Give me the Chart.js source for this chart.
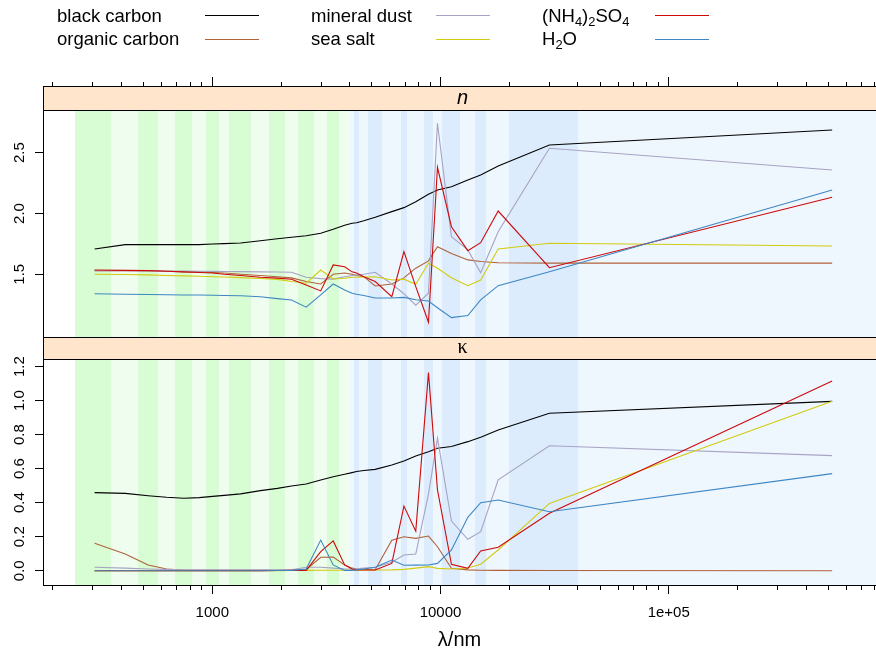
<!DOCTYPE html>
<html><head><meta charset="utf-8">
<script src="https://cdn.jsdelivr.net/npm/chart.js@4/dist/chart.umd.min.js"></script>
<style>
html,body{margin:0;padding:0;background:#fff;width:876px;height:656px;overflow:hidden;}
#wrap{position:relative;width:876px;height:656px;}
canvas{position:absolute;left:0;top:0;}
.lg{position:absolute;font-family:"Liberation Sans",Arial,sans-serif;font-size:18.5px;color:#000;white-space:nowrap;line-height:1;}
.lg sub{font-size:70%;vertical-align:-0.3em;line-height:0;}
</style></head>
<body><div id="wrap"><canvas id="c" width="876" height="656"></canvas><div id="legend"></div></div>
<script>
// ---- data ----
const wavelength = [305, 415.5, 523.5, 631, 750.5, 876.5, 1004, 1127, 1330.5, 1625, 1928, 2224.5, 2578, 2986, 3386.5, 3801.5,
  4095, 4287, 4611.5, 5174, 6117.5, 6913, 7789.5, 8855, 9697.5, 11164.5, 13170.5, 14994, 17893.5, 30000, 520000];

const nBlackCarbon   = [1.708,1.744,1.744,1.744,1.744,1.744,1.749,1.752,1.757,1.776,1.792,1.804,1.817,1.837,1.870,1.903,1.919,1.924,1.940,1.969,2.015,2.048,2.097,2.158,2.193,2.220,2.275,2.317,2.390,2.563,2.687];
const nOrganicCarbon = [1.53,1.53,1.53,1.525,1.52,1.52,1.515,1.51,1.50,1.49,1.48,1.47,1.44,1.42,1.50,1.51,1.50,1.49,1.48,1.404,1.42,1.47,1.55,1.61,1.727,1.67,1.618,1.605,1.595,1.592,1.592];
const nMineralDust   = [1.53,1.53,1.528,1.527,1.526,1.525,1.524,1.523,1.522,1.52,1.518,1.516,1.475,1.464,1.46,1.48,1.49,1.495,1.50,1.516,1.42,1.34,1.245,1.344,2.742,1.809,1.70,1.513,1.85,2.536,2.358];
const nSeaSalt       = [1.50,1.498,1.495,1.49,1.487,1.484,1.48,1.477,1.472,1.465,1.458,1.44,1.426,1.535,1.461,1.467,1.475,1.475,1.478,1.48,1.453,1.46,1.418,1.59,1.549,1.472,1.406,1.453,1.708,1.755,1.733];
const nSulfate       = [1.535,1.532,1.53,1.525,1.52,1.515,1.51,1.50,1.49,1.475,1.468,1.459,1.412,1.363,1.577,1.562,1.52,1.51,1.48,1.44,1.316,1.686,1.398,1.105,2.38,1.891,1.694,1.76,2.02,1.554,2.133];
const nWater         = [1.34,1.336,1.334,1.332,1.33,1.329,1.327,1.325,1.323,1.315,1.30,1.289,1.229,1.33,1.42,1.37,1.344,1.335,1.325,1.305,1.305,1.31,1.29,1.28,1.225,1.143,1.16,1.289,1.406,1.52,2.193];

const kBlackCarbon   = [0.459,0.455,0.441,0.432,0.426,0.43,0.437,0.443,0.452,0.471,0.484,0.498,0.51,0.534,0.553,0.567,0.577,0.583,0.589,0.596,0.622,0.645,0.675,0.70,0.72,0.73,0.759,0.785,0.828,0.926,0.996];
const kOrganicCarbon = [0.161,0.098,0.034,0.01,0.003,0.002,0.002,0.002,0.002,0.002,0.002,0.003,0.006,0.079,0.08,0.034,0.015,0.01,0.008,0.006,0.18,0.20,0.19,0.204,0.141,0.014,0.005,0.003,0.002,0.001,0.0];
const kMineralDust   = [0.02,0.015,0.01,0.008,0.006,0.005,0.005,0.005,0.005,0.005,0.005,0.006,0.02,0.02,0.015,0.01,0.01,0.012,0.015,0.02,0.05,0.092,0.098,0.45,0.779,0.292,0.185,0.23,0.535,0.735,0.677];
const kSeaSalt       = [0,0,0,0,0,0,0,0,0,0,0,0.001,0.002,0.003,0.003,0.003,0.003,0.003,0.004,0.004,0.005,0.008,0.015,0.024,0.014,0.01,0.016,0.038,0.122,0.396,0.996];
const kSulfate       = [0,0,0,0,0,0,0,0,0,0,0.001,0.002,0.002,0.112,0.175,0.034,0.01,0.005,0.004,0.004,0.043,0.38,0.232,1.165,0.475,0.038,0.014,0.116,0.138,0.338,1.116];
const kWater         = [0,0,0,0,0,0,0,0,0,0,0.001,0.002,0.01,0.18,0.034,0.002,0.002,0.005,0.01,0.02,0.063,0.032,0.033,0.034,0.043,0.122,0.314,0.40,0.416,0.347,0.571];

// band edges (nm): shortwave and longwave bands
const swBandEdges = [250, 360, 471, 576, 686, 815, 938, 1070, 1184, 1477, 1773, 2083, 2366, 2790, 3182, 3591, 4012];
const lwBandEdges = [4012, 4178, 4396, 4827, 5521, 6714, 7112, 8467, 9243, 10152, 12177, 14164, 15824, 20000, 40000, 1000000];

const seriesNames = ['black carbon', 'organic carbon', 'mineral dust', 'sea salt', '(NH<sub>4</sub>)<sub>2</sub>SO<sub>4</sub>', 'H<sub>2</sub>O'];
const nSeries = [nBlackCarbon, nOrganicCarbon, nMineralDust, nSeaSalt, nSulfate, nWater];
const kSeries = [kBlackCarbon, kOrganicCarbon, kMineralDust, kSeaSalt, kSulfate, kWater];

const xTickValues = [200,300,400,500,600,700,800,900,1000,2000,3000,4000,5000,6000,7000,8000,9000,10000,20000,30000,40000,50000,60000,70000,80000,90000,100000,200000,300000,400000,500000,600000,700000,800000];
const xLabelValues = [1000, 10000, 100000];
const nTickValues = [1.5, 2.0, 2.5];
const kTickValues = [0.0, 0.2, 0.4, 0.6, 0.8, 1.0, 1.2];

// ---- styles ----
const colors = ['#000000', '#b0623a', '#a7a3c4', '#d2cc10', '#cc0a0a', '#3d87c4'];
const FONT = '"Liberation Sans", Arial, Helvetica, sans-serif';
const swColors = ['#d8fcd3', '#effdee'];
const lwColors = ['#eef6fe', '#dcecfd'];
const stripColor = '#ffe5cc';

// legend text (HTML) and keys (canvas)
const legendPos = [[57,205,7,15],[57,205,30,39],[311,436,7,15],[311,436,30,39],[542,655,7,15],[542,655,30,39]];
const lg = document.getElementById('legend');
seriesNames.forEach((nm, i) => {
  const [tx, lx, ty, ly] = legendPos[i];
  const s = document.createElement('div'); s.className = 'lg'; s.style.left = tx + 'px'; s.style.top = ty + 'px'; s.innerHTML = nm; lg.appendChild(s);
});

const datasets = [];
const order = [6, 5, 4, 3, 2, 1];
nSeries.forEach((arr, i) => datasets.push({ data: wavelength.map((w, j) => ({x: w, y: arr[j]})), yAxisID: 'yN', borderColor: colors[i], borderWidth: 1.1, pointRadius: 0, fill: false, tension: 0, order: order[i] }));
kSeries.forEach((arr, i) => datasets.push({ data: wavelength.map((w, j) => ({x: w, y: arr[j]})), yAxisID: 'yK', borderColor: colors[i], borderWidth: 1.1, pointRadius: 0, fill: false, tension: 0, order: order[i] }));

function fillBands(ctx, x, s, edges, cols) {
  for (let i = 0; i < edges.length - 1; i++) {
    const a = Math.round(x.getPixelForValue(edges[i]));
    const b = Math.round(x.getPixelForValue(edges[i + 1]));
    ctx.fillStyle = cols[i % 2];
    ctx.fillRect(a, s.top, b - a, s.bottom - s.top);
  }
}

const panelPlugin = {
  id: 'panels',
  beforeDatasetsDraw(chart) {
    const {ctx, chartArea, scales} = chart;
    ctx.save();
    ctx.beginPath();
    ctx.rect(chartArea.left, chartArea.top, chartArea.right - chartArea.left, chartArea.bottom - chartArea.top);
    ctx.clip();
    for (const id of ['yN', 'yK']) {
      fillBands(ctx, scales.x, scales[id], swBandEdges, swColors);
      fillBands(ctx, scales.x, scales[id], lwBandEdges, lwColors);
    }
    ctx.restore();
  },
  afterDatasetsDraw(chart) {
    const {ctx, chartArea, scales} = chart;
    ctx.save();
    const L = chartArea.left, R = chartArea.right + 2;
    [['s1', 'n', 'italic'], ['s2', '\u03ba', 'normal']].forEach(([id, txt, st]) => {
      const s = scales[id];
      ctx.fillStyle = stripColor;
      ctx.fillRect(L, s.top, R - L, s.bottom - s.top);
      ctx.fillStyle = '#000';
      ctx.font = st + ' 20px ' + (st === 'italic' ? FONT : '"Liberation Serif", "DejaVu Serif", serif');
      ctx.textAlign = 'center'; ctx.textBaseline = 'middle';
      ctx.fillText(txt, (chartArea.left + chartArea.right) / 2 + 3, (s.top + s.bottom) / 2);
    });
    ctx.strokeStyle = '#000'; ctx.lineWidth = 1;
    for (const id of ['s1', 'yN', 's2', 'yK']) {
      const s = scales[id];
      ctx.strokeRect(Math.round(L) + 0.5, Math.round(s.top) + 0.5, R - L, Math.round(s.bottom) - Math.round(s.top));
    }
    // legend keys
    ctx.lineWidth = 1.2;
    legendPos.forEach(([tx, lx, ty, ly], i) => {
      ctx.strokeStyle = colors[i];
      ctx.beginPath(); ctx.moveTo(lx, ly + 0.5); ctx.lineTo(lx + 54, ly + 0.5); ctx.stroke();
    });
    ctx.restore();
  }
};

const tickFont = {family: FONT, size: 15};
const yCommon = (ticks) => ({
  type: 'linear', position: 'left', stack: 'panels',
  grid: {display: true, drawOnChartArea: false, drawTicks: true, tickLength: 8, color: '#000', lineWidth: 1},
  border: {display: false},
  ticks: {color: '#000', font: tickFont, minRotation: 90, maxRotation: 90, crossAlign: 'center', padding: 5, autoSkip: false,
    callback: v => Number(v).toFixed(1)},
  afterBuildTicks: s => { s.ticks = ticks.map(v => ({value: v})); },
  afterFit: s => { s.width = 43; }
});

new Chart(document.getElementById('c'), {
  type: 'line',
  data: {datasets},
  options: {
    responsive: false, animation: false, devicePixelRatio: 1,
    layout: {padding: {top: 77, left: 0, right: 0, bottom: 0}},
    plugins: {legend: {display: false}, tooltip: {enabled: false}},
    elements: {line: {borderCapStyle: 'butt', borderJoinStyle: 'miter'}},
    scales: {
      x: {type: 'logarithmic', position: 'bottom', min: 181.2, max: 809400, weight: 1,
        grid: {drawOnChartArea: false, tickLength: 5, color: '#000'}, border: {display: false},
        ticks: {display: false, autoSkip: false},
        afterBuildTicks: s => { s.ticks = xTickValues.map(v => ({value: v})); },
        afterFit: s => { s.height = 5; }},
      xLab: {type: 'logarithmic', position: 'bottom', min: 181.2, max: 809400, weight: 2,
        grid: {drawOnChartArea: false, tickLength: 4, color: '#000'}, border: {display: false},
        ticks: {display: true, autoSkip: false, maxRotation: 0, minRotation: 0, padding: 10, color: '#000', font: tickFont,
          callback: v => v === 100000 ? '1e+05' : String(v)},
        title: {display: true, text: '\u03bb/nm', color: '#000', font: {family: FONT, size: 20}, padding: {top: 0, bottom: 4}},
        afterBuildTicks: s => { s.ticks = xLabelValues.map(v => ({value: v})); },
        afterFit: s => { s.height = 66; }},
      xTop: {type: 'logarithmic', position: 'top', min: 181.2, max: 809400, weight: 1,
        grid: {drawOnChartArea: false, tickLength: 4, color: '#000'}, border: {display: false},
        ticks: {display: false, autoSkip: false},
        afterBuildTicks: s => { s.ticks = xTickValues.map(v => ({value: v})); },
        afterFit: s => { s.height = 4; }},
      xTopMaj: {type: 'logarithmic', position: 'top', min: 181.2, max: 809400, weight: 2,
        grid: {drawOnChartArea: false, tickLength: 5, color: '#000'}, border: {display: false},
        ticks: {display: false, autoSkip: false},
        afterBuildTicks: s => { s.ticks = xLabelValues.map(v => ({value: v})); },
        afterFit: s => { s.height = 5; }},
      s1: {type: 'linear', position: 'left', stack: 'panels', stackWeight: 24, weight: 4, display: false, min: 0, max: 1},
      yN: Object.assign(yCommon(nTickValues), {min: 0.984, max: 2.851, stackWeight: 227, weight: 3}),
      s2: {type: 'linear', position: 'left', stack: 'panels', stackWeight: 22, weight: 2, display: false, min: 0, max: 1},
      yK: Object.assign(yCommon(kTickValues), {min: -0.084, max: 1.245, stackWeight: 226, weight: 1})
    }
  },
  plugins: [panelPlugin]
});
</script>
</body></html>
